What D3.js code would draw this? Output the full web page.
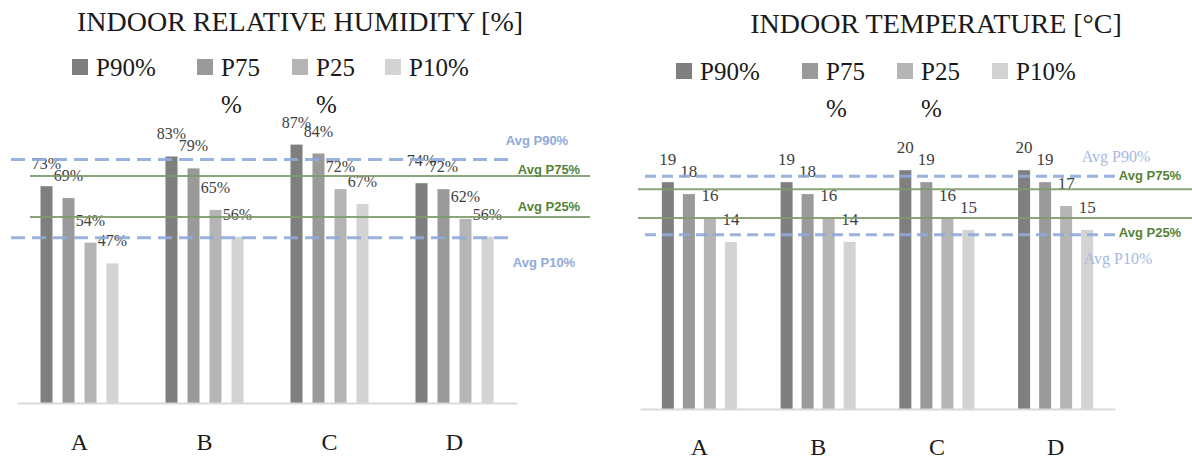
<html>
<head>
<meta charset="UTF-8">
<title>Indoor humidity and temperature</title>
<script src="https://d3js.org/d3.v7.min.js"></script>
<style>
  body{ margin:0; background:#fff; }
  svg{ display:block; }
  .serif{ font-family:"Liberation Serif","DejaVu Serif",serif; }
  .sans{ font-family:"Liberation Sans","DejaVu Sans",sans-serif; font-weight:bold; }
</style>
</head>
<body>
<script type="text/javascript">
var categories = ["A","B","C","D"];
var seriesNames = ["P90%","P75%","P25%","P10%"];
var legendLines = [["P90%"],["P75","%"],["P25","%"],["P10%"]];
var avgNames = ["Avg P90%","Avg P75%","Avg P25%","Avg P10%"];

// relative humidity [%]
var humP90 = [73,83,87,74];
var humP75 = [69,79,84,72];
var humP25 = [54,65,72,62];
var humP10 = [47,56,67,56];
var humAvg = [82,76.4,62.6,55.6];

// temperature [°C]
var tempP90 = [19,19,20,20];
var tempP75 = [18,18,19,19];
var tempP25 = [16,16,16,17];
var tempP10 = [14,14,15,15];
var tempAvg = [19.5,18.4,16,14.6];

var barColors = ["#7f7f7f","#9a9a9a","#b5b5b5","#d3d3d3"];
var blue = "#8faadc";
var green = "#7f9c6c";
var greenText = "#548235";

var svg = d3.select("body").append("svg")
  .attr("width",1192)
  .attr("height",459);

function drawChart(o){
  var g = svg.append("g");
  var series = [o.p90,o.p75,o.p25,o.p10];

  // title
  g.append("text")
    .attr("class","serif")
    .attr("x",o.titleX).attr("y",o.titleY)
    .attr("text-anchor","middle")
    .style("font-size","28px")
    .attr("fill","#1a1a1a")
    .text(o.title);

  // legend
  var lg = g.selectAll(".leg")
    .data(seriesNames)
    .enter().append("g")
    .attr("transform",function(d,i){ return "translate("+o.legendX[i]+","+o.legendY+")"; });
  lg.append("rect")
    .attr("x",0).attr("y",-17)
    .attr("width",16).attr("height",16)
    .attr("fill",function(d,i){ return barColors[i]; });
  lg.append("text")
    .attr("class","serif")
    .attr("x",24).attr("y",0)
    .style("font-size","25px")
    .attr("fill","#1a1a1a")
    .selectAll("tspan")
    .data(function(d,i){ return legendLines[i]; })
    .enter().append("tspan")
    .attr("x",24)
    .attr("y",function(d,j){ return j*37; })
    .text(function(d){ return d; });

  var x0 = d3.scaleBand().domain(categories)
    .range([o.left,o.right])
    .paddingInner(o.padIn).paddingOuter(o.padIn/2);
  var x1 = d3.scaleBand().domain(seriesNames)
    .range([0,x0.bandwidth()])
    .paddingInner(o.barPad);
  var y = d3.scaleLinear().domain([0,o.yMax]).range([o.base,o.top]);

  var rows = [];
  categories.forEach(function(c,ci){
    seriesNames.forEach(function(s,si){
      rows.push({cat:c, s:s, si:si, v:series[si][ci]});
    });
  });

  g.selectAll(".bar")
    .data(rows)
    .enter().append("rect")
    .attr("x",function(d){ return x0(d.cat)+x1(d.s); })
    .attr("y",function(d){ return y(d.v); })
    .attr("width",x1.bandwidth())
    .attr("height",function(d){ return o.base-y(d.v); })
    .attr("fill",function(d){ return barColors[d.si]; });

  g.selectAll(".val")
    .data(rows)
    .enter().append("text")
    .attr("class","serif")
    .attr("x",function(d){ return x0(d.cat)+x1(d.s)+x1.bandwidth()/2; })
    .attr("y",function(d){ return y(d.v)-17; })
    .attr("text-anchor","middle")
    .style("font-size",o.valSize)
    .attr("fill","#404040")
    .text(function(d){ return d.v+o.unit; });

  // x axis
  var ax = g.append("g")
    .attr("transform","translate(0,"+o.base+")")
    .call(d3.axisBottom(x0).tickSize(0).tickPadding(o.tickPad));
  ax.attr("font-family",null);
  ax.select(".domain").attr("stroke","#d9d9d9").attr("stroke-width",2);
  ax.selectAll("text")
    .attr("class","serif")
    .style("font-size","24px")
    .attr("fill","#1a1a1a");

  // average lines
  avgNames.forEach(function(n,i){
    var dashed = (i==0 || i==3);
    var ext = dashed ? o.dashX : o.solidX;
    g.append("line")
      .attr("x1",ext[0]).attr("x2",ext[1])
      .attr("y1",y(o.avg[i])).attr("y2",y(o.avg[i]))
      .attr("stroke",dashed ? blue : green)
      .attr("stroke-width",dashed ? 3 : 2)
      .attr("stroke-dasharray",dashed ? o.dash : null)
      .attr("opacity",0.9);
    var lab = o.avgLab[i];
    var t = g.append("text")
      .attr("x",lab[0]).attr("y",lab[1])
      .attr("text-anchor","middle")
      .text(n);
    if(dashed && o.serifBlue){
      t.attr("class","serif").style("font-size","16px").attr("fill","#a6b9e0");
    } else {
      t.attr("class","sans").style("font-size","13px")
       .attr("fill",dashed ? blue : greenText);
    }
  });
}

drawChart({
  title:"INDOOR RELATIVE HUMIDITY [%]", titleX:300, titleY:31,
  legendX:[72,197,292,385], legendY:76,
  p90:humP90, p75:humP75, p25:humP25, p10:humP10, avg:humAvg,
  left:17, right:517, padIn:0.376, barPad:0.4545,
  base:403, top:106, yMax:100, unit:"%", valSize:"16px", tickPad:30,
  dashX:[11,515], solidX:[30,590], dash:"14,7",
  avgLab:[[537,145],[549,174],[549,211],[544,267]], serifBlue:false
});

drawChart({
  title:"INDOOR TEMPERATURE [°C]", titleX:936, titleY:33,
  legendX:[676,802,897,992], legendY:80,
  p90:tempP90, p75:tempP75, p25:tempP25, p10:tempP10, avg:tempAvg,
  left:640, right:1115, padIn:0.368, barPad:0.4286,
  base:409, top:110.5, yMax:25, unit:"", valSize:"17px", tickPad:29,
  dashX:[645,1116], solidX:[638,1192], dash:"11,6",
  avgLab:[[1116,162],[1150,180],[1150,237],[1118,264]], serifBlue:true
});
</script>
</body>
</html>
